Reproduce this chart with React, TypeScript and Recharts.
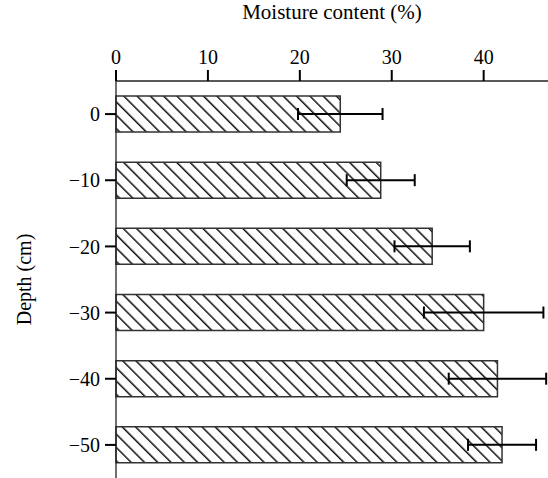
import { BarChart, Bar, XAxis, YAxis, ErrorBar } from 'recharts';

// depth categories (cm) and moisture content (%)
const depths = ['0', '\u221210', '\u221220', '\u221230', '\u221240', '\u221250'];
const moisture = [24.4, 28.8, 34.4, 40.0, 41.5, 42.0];
const moistureErr = [4.6, 3.7, 4.1, 6.5, 5.3, 3.7];
const xTicks = [0, 10, 20, 30, 40];

const FONT = 'Liberation Serif';

export default function App() {
  const data = depths.map((depth, i) => ({
    depth,
    moisture: moisture[i],
    err: moistureErr[i],
  }));

  return (
    <div style={{ position: 'absolute', left: 0, top: 0, background: '#fff' }}>
      <BarChart
        width={548}
        height={478}
        data={data}
        layout="vertical"
        margin={{ top: 0, right: 0, bottom: 0, left: 0 }}
        barSize={36}
      >
        <defs>
          <pattern
            id="hatch"
            patternUnits="userSpaceOnUse"
            width={9.4}
            height={9.4}
            patternTransform="rotate(-45)"
          >
            <rect width={9.4} height={9.4} fill="#fff" />
            <line x1={0} y1={0} x2={0} y2={9.4} stroke="#111" strokeWidth={3} />
          </pattern>
        </defs>
        <XAxis
          type="number"
          orientation="top"
          domain={[0, 47]}
          ticks={xTicks}
          height={81}
          tickSize={11}
          tickMargin={6}
          axisLine={{ stroke: '#222', strokeWidth: 1.3 }}
          tickLine={{ stroke: '#000', strokeWidth: 2 }}
          tick={{ fill: '#000', fontSize: 20, fontFamily: FONT }}
          label={{
            value: 'Moisture content (%)',
            position: 'insideTop',
            offset: 4,
            style: { fill: '#000', fontSize: 21, fontFamily: FONT },
          }}
        />
        <YAxis
          type="category"
          dataKey="depth"
          width={116}
          tickSize={11}
          tickMargin={5}
          axisLine={{ stroke: '#222', strokeWidth: 1.3 }}
          tickLine={{ stroke: '#000', strokeWidth: 2 }}
          tick={{ fill: '#000', fontSize: 20, fontFamily: FONT }}
          label={{
            value: 'Depth (cm)',
            angle: -90,
            position: 'insideLeft',
            offset: 24,
            style: { fill: '#000', fontSize: 20, fontFamily: FONT, textAnchor: 'middle' },
          }}
        />
        <Bar
          dataKey="moisture"
          fill="url(#hatch)"
          stroke="#333"
          strokeWidth={1.5}
          isAnimationActive={false}
        >
          <ErrorBar
            dataKey="err"
            direction="x"
            width={6}
            strokeWidth={2}
            stroke="#000"
            isAnimationActive={false}
          />
        </Bar>
      </BarChart>
    </div>
  );
}
